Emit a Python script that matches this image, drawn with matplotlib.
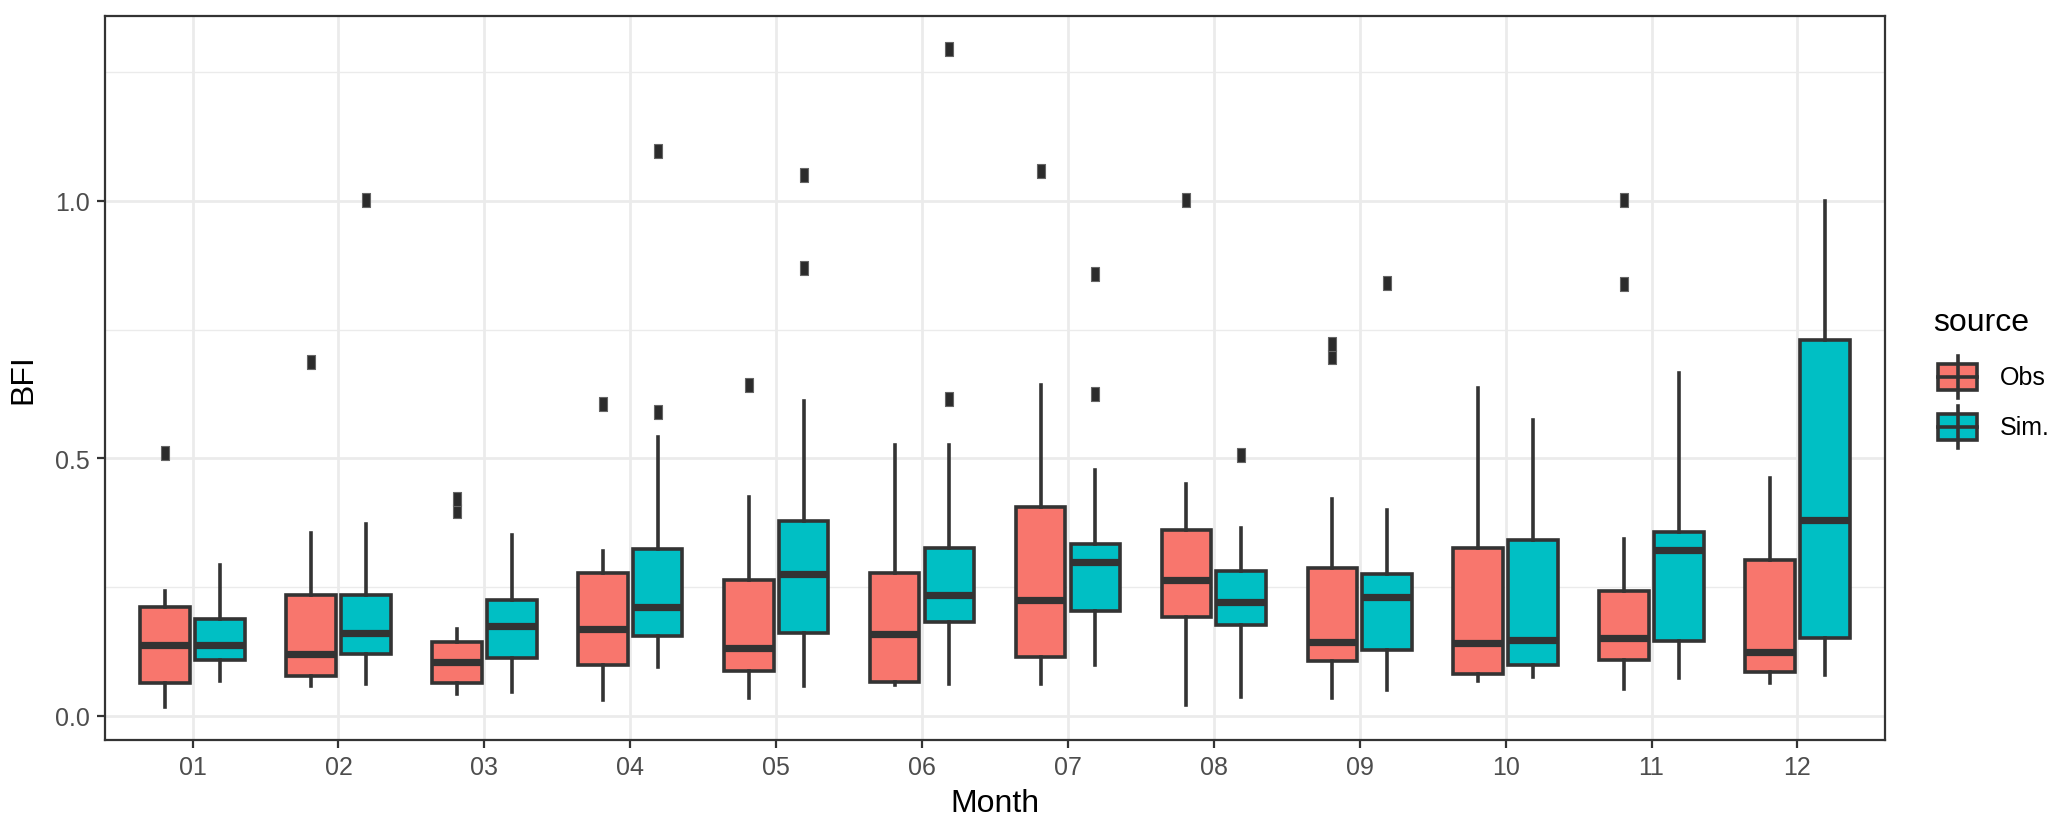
import matplotlib
matplotlib.use("Agg")
import matplotlib.pyplot as plt
from matplotlib.patches import Rectangle

plt.rcParams['font.family'] = ['Liberation Sans', 'DejaVu Sans']

months = ['01', '02', '03', '04', '05', '06', '07', '08', '09', '10', '11', '12']
sources = ['Obs', 'Sim.']
colors = {'Obs': '#F8766D', 'Sim.': '#00BFC4'}

# five-number summaries, one value per month
obs_lo = [0.017, 0.057, 0.043, 0.030, 0.035, 0.059, 0.062, 0.022, 0.034, 0.068, 0.053, 0.063]
obs_q1 = [0.063, 0.078, 0.063, 0.098, 0.087, 0.066, 0.114, 0.192, 0.106, 0.082, 0.108, 0.085]
obs_med = [0.137, 0.121, 0.105, 0.169, 0.132, 0.158, 0.224, 0.264, 0.143, 0.141, 0.152, 0.124]
obs_q3 = [0.212, 0.234, 0.143, 0.278, 0.264, 0.278, 0.406, 0.360, 0.288, 0.326, 0.243, 0.302]
obs_hi = [0.243, 0.355, 0.169, 0.320, 0.424, 0.526, 0.642, 0.450, 0.421, 0.637, 0.343, 0.461]
obs_out = [[0.51], [0.687], [0.397, 0.422], [0.606], [0.643], [], [1.057], [1.001],
           [0.696, 0.722], [], [0.839, 1.001], []]

sim_lo = [0.068, 0.062, 0.046, 0.095, 0.058, 0.061, 0.099, 0.037, 0.050, 0.076, 0.073, 0.080]
sim_q1 = [0.109, 0.121, 0.112, 0.156, 0.161, 0.182, 0.204, 0.176, 0.127, 0.098, 0.146, 0.151]
sim_med = [0.138, 0.160, 0.174, 0.211, 0.275, 0.234, 0.298, 0.221, 0.231, 0.147, 0.322, 0.380]
sim_q3 = [0.189, 0.235, 0.225, 0.324, 0.379, 0.326, 0.334, 0.282, 0.275, 0.342, 0.357, 0.729]
sim_hi = [0.293, 0.373, 0.351, 0.541, 0.611, 0.526, 0.477, 0.364, 0.399, 0.574, 0.665, 1.000]
sim_out = [[], [1.001], [], [0.590, 1.096], [0.870, 1.051], [0.615, 1.295], [0.624, 0.857],
           [0.506], [0.840], [], [], []]


def make_stats(lo, q1, med, q3, hi, out):
    return [dict(whislo=lo[i], q1=q1[i], med=med[i], q3=q3[i], whishi=hi[i], fliers=out[i])
            for i in range(len(lo))]


stats = {
    'Obs': make_stats(obs_lo, obs_q1, obs_med, obs_q3, obs_hi, obs_out),
    'Sim.': make_stats(sim_lo, sim_q1, sim_med, sim_q3, sim_hi, sim_out),
}

W, H, DPI = 2067, 829, 200
fig = plt.figure(figsize=(W / DPI, H / DPI), dpi=DPI)
ax = fig.add_axes([105 / W, 88 / H, 1780 / W, 724 / H])

edge = '#333333'
rect_marker = [(-0.33, -0.5), (0.33, -0.5), (0.33, 0.5), (-0.33, 0.5), (-0.33, -0.5)]
offsets = {'Obs': -0.1875, 'Sim.': 0.1875}
x = list(range(1, len(months) + 1))

for s in sources:
    ax.bxp(stats[s], positions=[i + offsets[s] for i in x], widths=0.34,
           patch_artist=True, showcaps=False, manage_ticks=False,
           boxprops=dict(facecolor=colors[s], edgecolor=edge, linewidth=1.3),
           medianprops=dict(color=edge, linewidth=2.6, solid_capstyle='butt'),
           whiskerprops=dict(color=edge, linewidth=1.3),
           flierprops=dict(marker=rect_marker, markersize=4.8, markerfacecolor='#2b2b2b',
                           markeredgecolor='#666666', markeredgewidth=0.4, linestyle='none'),
           zorder=3)

# y range like ggplot: data range plus 5%
all_vals = obs_lo + sim_lo + obs_hi + sim_hi + sum(obs_out, []) + sum(sim_out, [])
lo, hi = min(all_vals), max(all_vals)
pad = 0.05 * (hi - lo)
ax.set_ylim(lo - pad, hi + pad)
ax.set_xlim(0.4, len(months) + 0.6)

ax.set_xticks(x)
ax.set_xticklabels(months)
ax.set_yticks([0.0, 0.5, 1.0])
ax.set_yticklabels(['0.0', '0.5', '1.0'])
ax.set_yticks([0.25, 0.75, 1.25], minor=True)
ax.grid(True, which='major', color='#EBEBEB', linewidth=1.0, zorder=0)
ax.grid(True, which='minor', axis='y', color='#EBEBEB', linewidth=0.5, zorder=0)
ax.set_axisbelow(True)
ax.tick_params(axis='both', which='major', length=3, width=0.8, color=edge,
               labelsize=9, labelcolor='#4D4D4D', pad=2.5)
ax.tick_params(axis='y', which='minor', length=0)
for sp in ax.spines.values():
    sp.set_color(edge)
    sp.set_linewidth(0.8)

ax.set_xlabel('Month', fontsize=11.5, labelpad=3)
ax.set_ylabel('BFI', fontsize=11.5, labelpad=6)

# legend drawn in pixel coordinates
lax = fig.add_axes([0, 0, 1, 1], zorder=5)
lax.set_xlim(0, W)
lax.set_ylim(H, 0)
lax.axis('off')
lax.text(1933, 323, 'source', fontsize=11.5, va='center', ha='left')
for k, s in enumerate(sources):
    cy = 378 + 50 * k
    lax.plot([1957.5, 1957.5], [cy - 21, cy + 21], color=edge, linewidth=1.3)
    lax.add_patch(Rectangle((1938, cy - 13), 39, 26, facecolor=colors[s],
                            edgecolor=edge, linewidth=1.3))
    lax.plot([1938, 1977], [cy, cy], color=edge, linewidth=1.3)
    lax.text(2000, cy, s, fontsize=9, va='center', ha='left')

plt.savefig('out.png', dpi=DPI)
